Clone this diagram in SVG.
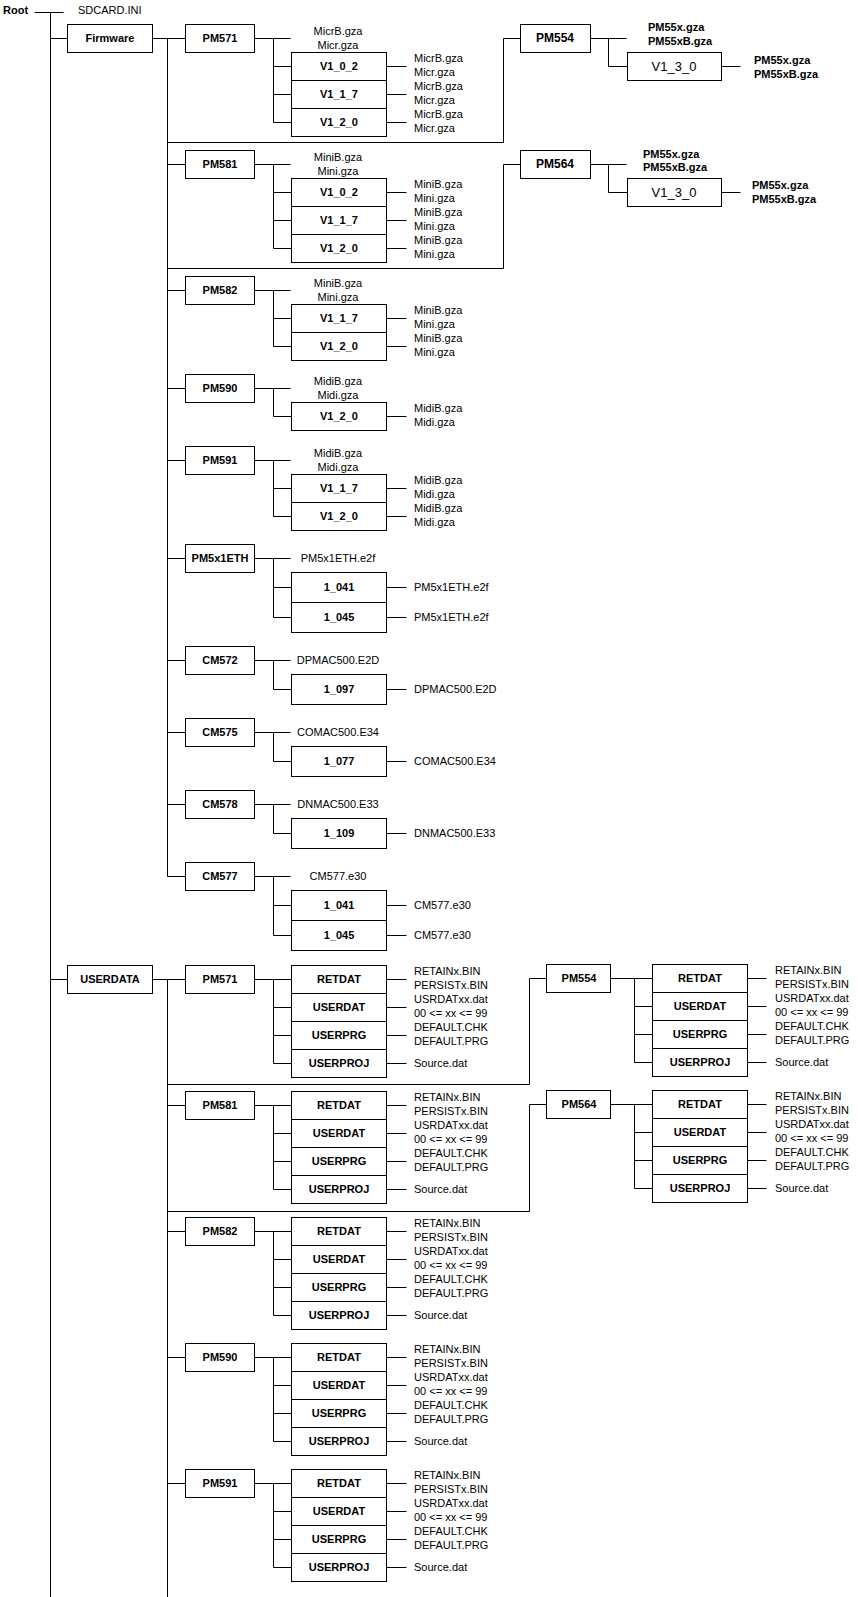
<svg xmlns="http://www.w3.org/2000/svg" width="858" height="1597" viewBox="0 0 858 1597">
<style>
text{font-family:"Liberation Sans",Arial,sans-serif;font-size:11px;fill:#000}
.b{font-weight:bold;text-anchor:middle}
.bl{font-weight:bold}
.c{text-anchor:middle}
.big{font-size:12px}
.v{font-size:13px;text-anchor:middle}
rect{fill:#fff;stroke:#000;stroke-width:1}
.con path{fill:none;stroke:#000;stroke-width:1}
</style>
<rect x="0" y="0" width="858" height="1597" style="stroke:none"/>
<g class="con" transform="translate(0.5,0.5)">
<path d="M34 12H63M50 12V1597M50 38H67M50 979H67M152 38H185M167 38V876M152 979H185M167 979V1597"/>
<path d="M254 38H290M273 38V122M273 66H291M273 94H291M273 122H291M386 66H406M386 94H406M386 122H406"/>
<path d="M167 142H503V38H520M590 38H626M608 38V66H627M721 66H740"/>
<path d="M167 164H185M254 164H290M273 164V248M273 192H291M273 220H291M273 248H291M386 192H406M386 220H406M386 248H406"/>
<path d="M167 268H503V164H520M590 164H626M608 164V192H627M721 192H740"/>
<path d="M167 290H185M254 290H290M273 290V346M273 318H291M273 346H291M386 318H406M386 346H406"/>
<path d="M167 388H185M254 388H290M273 388V416H291M386 416H406"/>
<path d="M167 460H185M254 460H290M273 460V516M273 488H291M273 516H291M386 488H406M386 516H406"/>
<path d="M167 558H185M254 558H290M273 558V617M273 587H291M273 617H291M386 587H406M386 617H406"/>
<path d="M167 660H185M254 660H290M273 660V689H291M386 689H406"/>
<path d="M167 732H185M254 732H290M273 732V761H291M386 761H406"/>
<path d="M167 804H185M254 804H290M273 804V833H291M386 833H406"/>
<path d="M167 876H185M254 876H290M273 876V935M273 905H291M273 935H291M386 905H406M386 935H406"/>
<path d="M254 979H291M273 979V1063M273 1007H291M273 1035H291M273 1063H291M386 979H406M386 1007H406M386 1035H406M386 1063H406"/>
<path d="M167 1084H529V978H546M610 978H652M634 978V1062M634 1006H652M634 1034H652M634 1062H652M747 978H766M747 1006H766M747 1034H766M747 1062H766"/>
<path d="M167 1105H185M254 1105H291M273 1105V1189M273 1133H291M273 1161H291M273 1189H291M386 1105H406M386 1133H406M386 1161H406M386 1189H406"/>
<path d="M167 1211H529V1104H546M610 1104H652M634 1104V1188M634 1132H652M634 1160H652M634 1188H652M747 1104H766M747 1132H766M747 1160H766M747 1188H766"/>
<path d="M167 1231H185M254 1231H291M273 1231V1315M273 1259H291M273 1287H291M273 1315H291M386 1231H406M386 1259H406M386 1287H406M386 1315H406"/>
<path d="M167 1357H185M254 1357H291M273 1357V1441M273 1385H291M273 1413H291M273 1441H291M386 1357H406M386 1385H406M386 1413H406M386 1441H406"/>
<path d="M167 1483H185M254 1483H291M273 1483V1567M273 1511H291M273 1539H291M273 1567H291M386 1483H406M386 1511H406M386 1539H406M386 1567H406"/>
</g>

<g id="root"><text class="bl" x="3" y="14">Root</text></g>
<g id="sdcard"><text x="78" y="14">SDCARD.INI</text></g>

<g id="firmware"><rect x="67.5" y="24.5" width="85" height="28"/><text class="b" x="110" y="42">Firmware</text></g>

<g id="fw-pm571">
<rect x="185.5" y="24.5" width="69" height="28"/><text class="b" x="220" y="42">PM571</text>
<text class="c" x="338" y="35">MicrB.gza</text><text class="c" x="338" y="49">Micr.gza</text>
<rect x="291.5" y="52.5" width="95" height="28"/><text class="b" x="339" y="70">V1_0_2</text>
<rect x="291.5" y="80.5" width="95" height="28"/><text class="b" x="339" y="98">V1_1_7</text>
<rect x="291.5" y="108.5" width="95" height="28"/><text class="b" x="339" y="126">V1_2_0</text>
<text x="414" y="62">MicrB.gza</text><text x="414" y="76">Micr.gza</text>
<text x="414" y="90">MicrB.gza</text><text x="414" y="104">Micr.gza</text>
<text x="414" y="118">MicrB.gza</text><text x="414" y="132">Micr.gza</text>
</g>

<g id="fw-pm554">
<rect x="520.5" y="24.5" width="70" height="28"/><text class="b big" x="555" y="42">PM554</text>
<text class="bl" x="648" y="31">PM55x.gza</text><text class="bl" x="648" y="45">PM55xB.gza</text>
<rect x="627.5" y="52.5" width="94" height="28"/><text class="v" x="674" y="70.5">V1_3_0</text>
<text class="bl" x="754" y="64">PM55x.gza</text><text class="bl" x="754" y="78">PM55xB.gza</text>
</g>

<g id="fw-pm581">
<rect x="185.5" y="150.5" width="69" height="28"/><text class="b" x="220" y="168">PM581</text>
<text class="c" x="338" y="161">MiniB.gza</text><text class="c" x="338" y="175">Mini.gza</text>
<rect x="291.5" y="178.5" width="95" height="28"/><text class="b" x="339" y="196">V1_0_2</text>
<rect x="291.5" y="206.5" width="95" height="28"/><text class="b" x="339" y="224">V1_1_7</text>
<rect x="291.5" y="234.5" width="95" height="28"/><text class="b" x="339" y="252">V1_2_0</text>
<text x="414" y="188">MiniB.gza</text><text x="414" y="202">Mini.gza</text>
<text x="414" y="216">MiniB.gza</text><text x="414" y="230">Mini.gza</text>
<text x="414" y="244">MiniB.gza</text><text x="414" y="258">Mini.gza</text>
</g>

<g id="fw-pm564">
<rect x="520.5" y="150.5" width="70" height="28"/><text class="b big" x="555" y="168">PM564</text>
<text class="bl" x="643" y="157.5">PM55x.gza</text><text class="bl" x="643" y="171">PM55xB.gza</text>
<rect x="627.5" y="178.5" width="94" height="28"/><text class="v" x="674" y="196.5">V1_3_0</text>
<text class="bl" x="752" y="189">PM55x.gza</text><text class="bl" x="752" y="203">PM55xB.gza</text>
</g>

<g id="fw-pm582">
<rect x="185.5" y="276.5" width="69" height="28"/><text class="b" x="220" y="294">PM582</text>
<text class="c" x="338" y="287">MiniB.gza</text><text class="c" x="338" y="301">Mini.gza</text>
<rect x="291.5" y="304.5" width="95" height="28"/><text class="b" x="339" y="322">V1_1_7</text>
<rect x="291.5" y="332.5" width="95" height="28"/><text class="b" x="339" y="350">V1_2_0</text>
<text x="414" y="314">MiniB.gza</text><text x="414" y="328">Mini.gza</text>
<text x="414" y="342">MiniB.gza</text><text x="414" y="356">Mini.gza</text>
</g>

<g id="fw-pm590">
<rect x="185.5" y="374.5" width="69" height="28"/><text class="b" x="220" y="392">PM590</text>
<text class="c" x="338" y="385">MidiB.gza</text><text class="c" x="338" y="399">Midi.gza</text>
<rect x="291.5" y="402.5" width="95" height="28"/><text class="b" x="339" y="420">V1_2_0</text>
<text x="414" y="412">MidiB.gza</text><text x="414" y="426">Midi.gza</text>
</g>

<g id="fw-pm591">
<rect x="185.5" y="446.5" width="69" height="28"/><text class="b" x="220" y="464">PM591</text>
<text class="c" x="338" y="457">MidiB.gza</text><text class="c" x="338" y="471">Midi.gza</text>
<rect x="291.5" y="474.5" width="95" height="28"/><text class="b" x="339" y="492">V1_1_7</text>
<rect x="291.5" y="502.5" width="95" height="28"/><text class="b" x="339" y="520">V1_2_0</text>
<text x="414" y="484">MidiB.gza</text><text x="414" y="498">Midi.gza</text>
<text x="414" y="512">MidiB.gza</text><text x="414" y="526">Midi.gza</text>
</g>

<g id="fw-pm5x1eth">
<rect x="185.5" y="544.5" width="69" height="28"/><text class="b" x="220" y="562">PM5x1ETH</text>
<text class="c" x="338" y="562">PM5x1ETH.e2f</text>
<rect x="291.5" y="572.5" width="95" height="30"/><text class="b" x="339" y="591">1_041</text>
<rect x="291.5" y="602.5" width="95" height="30"/><text class="b" x="339" y="621">1_045</text>
<text x="414" y="591">PM5x1ETH.e2f</text><text x="414" y="621">PM5x1ETH.e2f</text>
</g>

<g id="fw-cm572">
<rect x="185.5" y="646.5" width="69" height="28"/><text class="b" x="220" y="664">CM572</text>
<text class="c" x="338" y="664">DPMAC500.E2D</text>
<rect x="291.5" y="674.5" width="95" height="30"/><text class="b" x="339" y="693">1_097</text>
<text x="414" y="693">DPMAC500.E2D</text>
</g>

<g id="fw-cm575">
<rect x="185.5" y="718.5" width="69" height="28"/><text class="b" x="220" y="736">CM575</text>
<text class="c" x="338" y="736">COMAC500.E34</text>
<rect x="291.5" y="746.5" width="95" height="30"/><text class="b" x="339" y="765">1_077</text>
<text x="414" y="765">COMAC500.E34</text>
</g>

<g id="fw-cm578">
<rect x="185.5" y="790.5" width="69" height="28"/><text class="b" x="220" y="808">CM578</text>
<text class="c" x="338" y="808">DNMAC500.E33</text>
<rect x="291.5" y="818.5" width="95" height="30"/><text class="b" x="339" y="837">1_109</text>
<text x="414" y="837">DNMAC500.E33</text>
</g>

<g id="fw-cm577">
<rect x="185.5" y="862.5" width="69" height="28"/><text class="b" x="220" y="880">CM577</text>
<text class="c" x="338" y="880">CM577.e30</text>
<rect x="291.5" y="890.5" width="95" height="30"/><text class="b" x="339" y="909">1_041</text>
<rect x="291.5" y="920.5" width="95" height="30"/><text class="b" x="339" y="939">1_045</text>
<text x="414" y="909">CM577.e30</text><text x="414" y="939">CM577.e30</text>
</g>

<g id="userdata"><rect x="67.5" y="965.5" width="85" height="28"/><text class="b" x="110" y="983">USERDATA</text></g>

<g id="ud-pm571">
<rect x="185.5" y="965.5" width="69" height="28"/><text class="b" x="220" y="983">PM571</text>
<rect x="291.5" y="965.5" width="95" height="28"/><text class="b" x="339" y="983">RETDAT</text>
<rect x="291.5" y="993.5" width="95" height="28"/><text class="b" x="339" y="1011">USERDAT</text>
<rect x="291.5" y="1021.5" width="95" height="28"/><text class="b" x="339" y="1039">USERPRG</text>
<rect x="291.5" y="1049.5" width="95" height="28"/><text class="b" x="339" y="1067">USERPROJ</text>
<text x="414" y="975">RETAINx.BIN</text><text x="414" y="989">PERSISTx.BIN</text>
<text x="414" y="1003">USRDATxx.dat</text><text x="414" y="1017">00 &lt;= xx &lt;= 99</text>
<text x="414" y="1031">DEFAULT.CHK</text><text x="414" y="1045">DEFAULT.PRG</text>
<text x="414" y="1067">Source.dat</text>
</g>

<g id="ud-pm554">
<rect x="546.5" y="964.5" width="64" height="28"/><text class="b" x="579" y="982">PM554</text>
<rect x="652.5" y="964.5" width="95" height="28"/><text class="b" x="700" y="982">RETDAT</text>
<rect x="652.5" y="992.5" width="95" height="28"/><text class="b" x="700" y="1010">USERDAT</text>
<rect x="652.5" y="1020.5" width="95" height="28"/><text class="b" x="700" y="1038">USERPRG</text>
<rect x="652.5" y="1048.5" width="95" height="28"/><text class="b" x="700" y="1066">USERPROJ</text>
<text x="775" y="974">RETAINx.BIN</text><text x="775" y="988">PERSISTx.BIN</text>
<text x="775" y="1002">USRDATxx.dat</text><text x="775" y="1016">00 &lt;= xx &lt;= 99</text>
<text x="775" y="1030">DEFAULT.CHK</text><text x="775" y="1044">DEFAULT.PRG</text>
<text x="775" y="1066">Source.dat</text>
</g>

<g id="ud-pm581">
<rect x="185.5" y="1091.5" width="69" height="28"/><text class="b" x="220" y="1109">PM581</text>
<rect x="291.5" y="1091.5" width="95" height="28"/><text class="b" x="339" y="1109">RETDAT</text>
<rect x="291.5" y="1119.5" width="95" height="28"/><text class="b" x="339" y="1137">USERDAT</text>
<rect x="291.5" y="1147.5" width="95" height="28"/><text class="b" x="339" y="1165">USERPRG</text>
<rect x="291.5" y="1175.5" width="95" height="28"/><text class="b" x="339" y="1193">USERPROJ</text>
<text x="414" y="1101">RETAINx.BIN</text><text x="414" y="1115">PERSISTx.BIN</text>
<text x="414" y="1129">USRDATxx.dat</text><text x="414" y="1143">00 &lt;= xx &lt;= 99</text>
<text x="414" y="1157">DEFAULT.CHK</text><text x="414" y="1171">DEFAULT.PRG</text>
<text x="414" y="1193">Source.dat</text>
</g>

<g id="ud-pm564">
<rect x="546.5" y="1090.5" width="64" height="28"/><text class="b" x="579" y="1108">PM564</text>
<rect x="652.5" y="1090.5" width="95" height="28"/><text class="b" x="700" y="1108">RETDAT</text>
<rect x="652.5" y="1118.5" width="95" height="28"/><text class="b" x="700" y="1136">USERDAT</text>
<rect x="652.5" y="1146.5" width="95" height="28"/><text class="b" x="700" y="1164">USERPRG</text>
<rect x="652.5" y="1174.5" width="95" height="28"/><text class="b" x="700" y="1192">USERPROJ</text>
<text x="775" y="1100">RETAINx.BIN</text><text x="775" y="1114">PERSISTx.BIN</text>
<text x="775" y="1128">USRDATxx.dat</text><text x="775" y="1142">00 &lt;= xx &lt;= 99</text>
<text x="775" y="1156">DEFAULT.CHK</text><text x="775" y="1170">DEFAULT.PRG</text>
<text x="775" y="1192">Source.dat</text>
</g>

<g id="ud-pm582">
<rect x="185.5" y="1217.5" width="69" height="28"/><text class="b" x="220" y="1235">PM582</text>
<rect x="291.5" y="1217.5" width="95" height="28"/><text class="b" x="339" y="1235">RETDAT</text>
<rect x="291.5" y="1245.5" width="95" height="28"/><text class="b" x="339" y="1263">USERDAT</text>
<rect x="291.5" y="1273.5" width="95" height="28"/><text class="b" x="339" y="1291">USERPRG</text>
<rect x="291.5" y="1301.5" width="95" height="28"/><text class="b" x="339" y="1319">USERPROJ</text>
<text x="414" y="1227">RETAINx.BIN</text><text x="414" y="1241">PERSISTx.BIN</text>
<text x="414" y="1255">USRDATxx.dat</text><text x="414" y="1269">00 &lt;= xx &lt;= 99</text>
<text x="414" y="1283">DEFAULT.CHK</text><text x="414" y="1297">DEFAULT.PRG</text>
<text x="414" y="1319">Source.dat</text>
</g>

<g id="ud-pm590">
<rect x="185.5" y="1343.5" width="69" height="28"/><text class="b" x="220" y="1361">PM590</text>
<rect x="291.5" y="1343.5" width="95" height="28"/><text class="b" x="339" y="1361">RETDAT</text>
<rect x="291.5" y="1371.5" width="95" height="28"/><text class="b" x="339" y="1389">USERDAT</text>
<rect x="291.5" y="1399.5" width="95" height="28"/><text class="b" x="339" y="1417">USERPRG</text>
<rect x="291.5" y="1427.5" width="95" height="28"/><text class="b" x="339" y="1445">USERPROJ</text>
<text x="414" y="1353">RETAINx.BIN</text><text x="414" y="1367">PERSISTx.BIN</text>
<text x="414" y="1381">USRDATxx.dat</text><text x="414" y="1395">00 &lt;= xx &lt;= 99</text>
<text x="414" y="1409">DEFAULT.CHK</text><text x="414" y="1423">DEFAULT.PRG</text>
<text x="414" y="1445">Source.dat</text>
</g>

<g id="ud-pm591">
<rect x="185.5" y="1469.5" width="69" height="28"/><text class="b" x="220" y="1487">PM591</text>
<rect x="291.5" y="1469.5" width="95" height="28"/><text class="b" x="339" y="1487">RETDAT</text>
<rect x="291.5" y="1497.5" width="95" height="28"/><text class="b" x="339" y="1515">USERDAT</text>
<rect x="291.5" y="1525.5" width="95" height="28"/><text class="b" x="339" y="1543">USERPRG</text>
<rect x="291.5" y="1553.5" width="95" height="28"/><text class="b" x="339" y="1571">USERPROJ</text>
<text x="414" y="1479">RETAINx.BIN</text><text x="414" y="1493">PERSISTx.BIN</text>
<text x="414" y="1507">USRDATxx.dat</text><text x="414" y="1521">00 &lt;= xx &lt;= 99</text>
<text x="414" y="1535">DEFAULT.CHK</text><text x="414" y="1549">DEFAULT.PRG</text>
<text x="414" y="1571">Source.dat</text>
</g>
</svg>
